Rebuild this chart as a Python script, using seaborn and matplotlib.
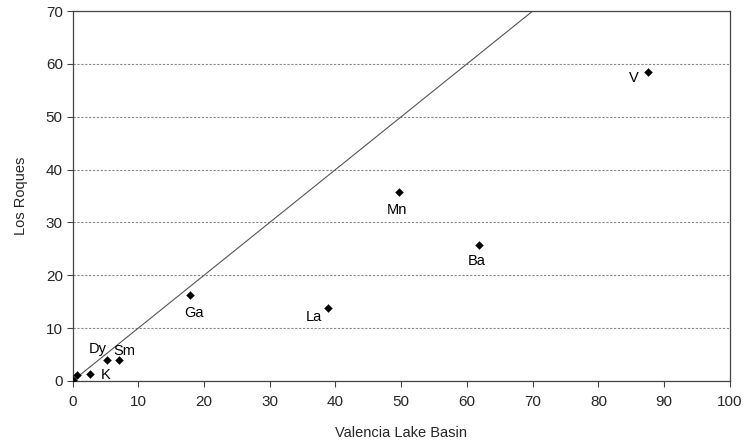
import matplotlib
matplotlib.use("Agg")
import pandas as pd
import seaborn as sns
import matplotlib.pyplot as plt

sns.set_style("white")
plt.rcParams["font.family"] = ["Liberation Sans", "DejaVu Sans"]

# data
elements = ["", "", "K", "Dy", "Sm", "Ga", "La", "Mn", "Ba", "V"]
valencia = [0.1, 0.7, 2.7, 5.3, 7.0, 17.9, 38.9, 49.7, 61.9, 87.5]
los_roques = [0.2, 1.1, 1.4, 3.9, 3.9, 16.3, 13.9, 35.8, 25.7, 58.5]
# label offsets in pixels (dx, dy)
label_offsets = [(0, 0), (0, 0), (15, -1), (-10, 11), (6, 9), (4, -18),
                 (-14, -9), (-2, -18), (-3, -16), (-14, -6)]

df = pd.DataFrame({"Valencia Lake Basin": valencia, "Los Roques": los_roques,
                   "element": elements})

fig = plt.figure(figsize=(7.49, 4.48), dpi=100)
ax = fig.add_axes([0.0968, 0.1496, 0.9746 - 0.0968, 0.9754 - 0.1496])

# 1:1 line
ax.plot([0, 100], [0, 100], color="#555555", linewidth=0.8, zorder=2)

sns.scatterplot(data=df, x="Valencia Lake Basin", y="Los Roques", marker="D",
                s=16, color="black", edgecolor="black", linewidth=0.3,
                ax=ax, zorder=3)

for name, x, y, (dx, dy) in zip(elements, valencia, los_roques, label_offsets):
    if name:
        ax.annotate(name, (x, y), xytext=(dx, dy), textcoords="offset pixels",
                    ha="center", va="center", fontsize=10.5, color="black")

ax.set_xlim(0, 100)
ax.set_ylim(0, 70)
ax.set_xticks(range(0, 101, 10))
ax.set_yticks(range(0, 71, 10))
ax.yaxis.grid(True, color="#888888", linestyle=(0, (2, 1.5)), linewidth=0.8)
ax.xaxis.grid(False)
ax.set_axisbelow(True)
for side in ax.spines.values():
    side.set_color("#444444")
    side.set_linewidth(0.9)
ax.tick_params(axis="both", direction="out", length=4, width=0.8,
               color="#444444", labelsize=11, bottom=True, left=True)
ax.tick_params(axis="x", pad=6)
ax.tick_params(axis="y", pad=3)
ax.set_xlabel("Valencia Lake Basin", fontsize=10.5, labelpad=12)
ax.set_ylabel("Los Roques", fontsize=10.5, labelpad=13)

fig.savefig("out.png", dpi=100)
